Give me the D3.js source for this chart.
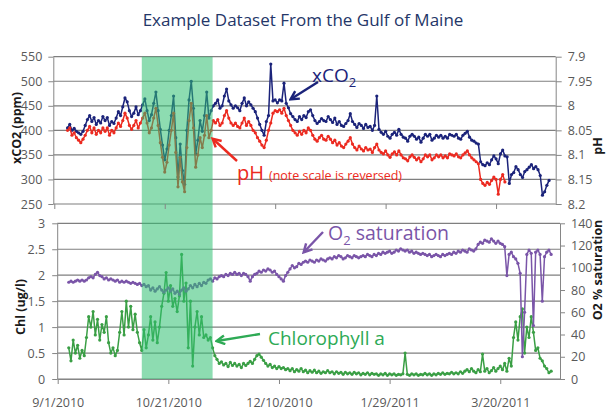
<!DOCTYPE html>
<html><head><meta charset="utf-8">
<script src="https://cdn.jsdelivr.net/npm/d3@7"></script>
<style>body{margin:0;background:#fff}svg{display:block}</style>
</head><body><svg id="c" width="606" height="411"></svg>
<script>
// ---------------- DATA (daily readings) ----------------
const co2Start = "2010-09-07";
const co2Values = [
405,412,400,404,398,395,392,398,410,422,
430,418,426,412,420,415,428,420,426,410,
418,414,425,438,430,448,466,458,440,428,
435,448,432,440,452,464,440,420,432,455,
478,440,402,370,340,362,400,430,470,385,
305,372,318,290,400,462,500,445,352,380,
420,398,430,478,425,440,450,455,462,445,
450,470,484,460,452,445,450,446,440,455,
466,450,458,452,445,438,425,412,400,390,
418,430,535,460,462,456,462,460,496,455,
446,434,428,422,418,428,422,430,426,438,
442,430,420,414,418,424,420,418,428,422,
416,425,412,418,410,408,414,420,434,418,
412,406,414,410,404,412,406,408,400,410,
470,402,396,392,398,388,384,392,396,390,
402,392,386,384,378,388,392,388,382,386,
376,384,392,388,392,380,384,390,386,390,
384,388,384,392,390,388,392,384,382,390,
394,398,386,380,378,374,372,336,330,328,
334,330,340,348,342,332,352,360,348,346,
292,310,314,326,320,310,304,316,320,325,
330,322,326,320,308,268,275,288,298];

const phStart = "2010-09-07";
const phValues = [
8.05,8.045,8.06,8.055,8.065,8.07,8.075,8.068,8.06,8.05,
8.042,8.055,8.045,8.058,8.05,8.055,8.045,8.052,8.045,8.06,
8.05,8.055,8.045,8.035,8.042,8.03,8.015,8.025,8.04,8.048,
8.04,8.03,8.045,8.035,8.025,8.015,8.035,8.055,8.045,8.025,
8.005,8.04,8.075,8.105,8.135,8.115,8.08,8.05,8.015,8.095,
8.165,8.105,8.155,8.175,8.085,8.03,7.995,8.045,8.125,8.1,
8.065,8.085,8.06,8.02,8.065,8.05,8.03,8.035,8.028,8.04,
8.035,8.02,8.01,8.025,8.035,8.04,8.035,8.042,8.045,8.035,
8.025,8.04,8.032,8.04,8.05,8.055,8.065,8.072,8.08,8.085,
8.07,8.05,8.035,8.015,8.01,8.012,8.008,8.015,8.005,8.02,
8.03,8.04,8.05,8.055,8.06,8.052,8.058,8.05,8.055,8.045,
8.05,8.06,8.068,8.072,8.065,8.06,8.068,8.07,8.062,8.068,
8.075,8.07,8.08,8.075,8.082,8.085,8.078,8.072,8.065,8.078,
8.085,8.09,8.082,8.088,8.092,8.085,8.09,8.088,8.095,8.085,
8.078,8.09,8.095,8.098,8.092,8.1,8.105,8.098,8.094,8.1,
8.092,8.1,8.106,8.108,8.112,8.104,8.1,8.105,8.11,8.106,
8.114,8.108,8.1,8.104,8.1,8.11,8.106,8.1,8.104,8.1,
8.106,8.102,8.106,8.098,8.1,8.102,8.098,8.104,8.106,8.1,
8.096,8.092,8.1,8.106,8.11,8.114,8.118,8.15,8.158,8.162,
8.156,8.16,8.152,8.145,8.15,8.18,8.15,8.14,8.155];

const chlStart = "2010-09-06";
const chlValues = [
0.6,0.35,0.75,0.5,0.65,0.4,0.55,0.45,0.8,1.2,
1.0,1.3,0.85,1.15,0.75,1.05,0.9,1.2,0.7,0.5,
0.6,0.45,0.55,0.9,1.3,0.85,1.5,1.0,1.4,0.95,
1.25,0.9,0.7,0.55,0.95,0.6,0.85,1.2,0.75,1.1,
0.7,1.0,1.4,1.65,2.05,1.5,1.8,1.4,1.55,1.3,
1.6,2.4,1.5,1.85,0.6,1.5,0.25,1.0,1.3,0.85,
1.2,0.8,0.85,0.75,0.8,0.6,0.45,0.38,0.3,0.33,
0.27,0.3,0.24,0.32,0.26,0.3,0.25,0.28,0.22,0.3,
0.26,0.3,0.34,0.3,0.38,0.45,0.48,0.42,0.36,0.3,
0.25,0.28,0.22,0.25,0.2,0.24,0.2,0.22,0.18,0.2,
0.16,0.2,0.14,0.18,0.15,0.2,0.14,0.17,0.12,0.16,
0.13,0.17,0.12,0.15,0.11,0.14,0.12,0.16,0.12,0.14,
0.1,0.14,0.11,0.13,0.09,0.13,0.1,0.12,0.09,0.13,
0.1,0.12,0.08,0.11,0.09,0.12,0.08,0.11,0.09,0.1,
0.07,0.1,0.08,0.11,0.07,0.1,0.08,0.1,0.07,0.09,
0.08,0.1,0.5,0.09,0.07,0.1,0.08,0.1,0.07,0.09,
0.08,0.11,0.08,0.1,0.07,0.1,0.08,0.11,0.09,0.12,
0.09,0.11,0.1,0.13,0.1,0.12,0.1,0.14,0.11,0.15,
0.18,0.14,0.2,0.15,0.12,0.18,0.14,0.48,0.15,0.2,
0.12,0.16,0.22,0.15,0.2,0.25,0.18,0.3,0.15,0.4,
0.25,0.8,1.1,0.75,1.2,1.35,0.5,1.0,0.8,1.2,
0.9,0.55,0.6,0.4,0.35,0.25,0.2,0.12,0.15];

const o2Start = "2010-09-06";
const o2Values = [
87,88,87,88,89,88,89,88,89,91,
92,91,94,96,93,92,90,91,89,90,
89,88,89,87,88,87,88,87,86,87,
86,85,86,84,85,83,84,80,82,79,
81,83,80,78,80,82,79,81,77,79,
76,80,82,79,81,84,82,85,83,86,
84,87,86,89,90,88,91,90,92,93,
92,94,93,95,94,96,94,95,93,95,
94,92,88,92,94,95,97,96,98,97,
99,98,96,97,94,92,90,88,93,96,
99,102,100,101,104,103,105,106,105,107,
106,105,107,106,108,107,106,108,109,108,
110,109,111,110,108,109,111,110,109,111,
110,109,110,111,110,112,111,110,112,111,
113,112,114,113,114,115,113,114,116,115,
117,116,115,116,114,115,113,114,113,112,
113,112,111,112,110,111,112,111,110,112,
111,112,113,112,114,113,115,114,116,115,
114,117,116,115,117,121,123,122,125,124,
123,126,124,122,124,122,121,119,93,112,
114,110,108,104,95,20,60,112,116,113,
48,114,116,112,70,110,114,116,112];

const xTickLabels = ["9/1/2010","10/21/2010","12/10/2010","1/29/2011","3/20/2011"];
const co2Ticks = [250,300,350,400,450,500,550];
const phTicks = [7.9,7.95,8,8.05,8.1,8.15,8.2];
const chlTicks = [0,0.5,1,1.5,2,2.5,3];
const o2Ticks = [0,20,40,60,80,100,120,140];
const bloomPeriod = ["2010-10-09","2010-11-10"];

// ---------------- CHART ----------------
const svg = d3.select("#c");
const FONT = "'Open Sans', sans-serif";
const AX = "#868686", LBL = "#595959", GRID = "#7f7f7f";
const C_CO2 = "#1b237a", C_PH = "#ec2a20", C_O2 = "#7a55a8", C_CHL = "#3a9f45";

const parse = d3.utcParse("%Y-%m-%d");
const parseTick = d3.utcParse("%m/%d/%Y");
const tickDates = xTickLabels.map(parseTick);
const t0 = tickDates[0];
const t1 = d3.utcDay.offset(t0, 227);

const xTop = d3.scaleUtc().domain([t0, t1]).range([54.3, 555.7]);
const xBot = d3.scaleUtc().domain([t0, t1]).range([57.7, 560]);
const yCo2 = d3.scaleLinear().domain([250, 550]).range([204, 56.7]);
const yPh  = d3.scaleLinear().domain([8.2, 7.9]).range([204, 56.7]);
const yChl = d3.scaleLinear().domain([0, 3]).range([379, 223.3]);
const yO2  = d3.scaleLinear().domain([0, 140]).range([379, 223.3]);

// title
svg.append("text").attr("x", 303).attr("y", 26).attr("text-anchor", "middle")
  .attr("font-family", FONT).attr("font-size", 17).attr("fill", "#243668")
  .text("Example Dataset From the Gulf of Maine");

// gridlines
const grid = svg.append("g");
grid.selectAll(null).data(co2Ticks).join("line")
  .attr("x1", xTop.range()[0] - 1).attr("x2", xTop.range()[1])
  .attr("y1", d => yCo2(d)).attr("y2", d => yCo2(d))
  .attr("stroke", GRID).attr("stroke-width", 1.2);
grid.selectAll(null).data(chlTicks).join("line")
  .attr("x1", xBot.range()[0] - 0.5).attr("x2", xBot.range()[1])
  .attr("y1", d => yChl(d)).attr("y2", d => yChl(d))
  .attr("stroke", GRID).attr("stroke-width", 1.2);

function drawSeries(start, values, x, y, color) {
  const t = parse(start);
  const pts = values.map((v, i) => [d3.utcDay.offset(t, i), v]);
  const g = svg.append("g");
  g.append("path").datum(pts)
    .attr("d", d3.line().x(d => x(d[0])).y(d => y(d[1])))
    .attr("fill", "none").attr("stroke", color).attr("stroke-width", 1.5)
    .attr("stroke-linejoin", "round");
  g.selectAll(null).data(pts).join("circle")
    .attr("cx", d => x(d[0])).attr("cy", d => y(d[1])).attr("r", 1.6).attr("fill", color);
}
drawSeries(co2Start, co2Values, xTop, yCo2, C_CO2);
drawSeries(phStart, phValues, xTop, yPh, C_PH);
drawSeries(chlStart, chlValues, xBot, yChl, C_CHL);
drawSeries(o2Start, o2Values, xBot, yO2, C_O2);

// bloom shading
const b0 = xBot(parse(bloomPeriod[0])), b1 = xBot(parse(bloomPeriod[1]));
svg.append("rect").attr("x", b0).attr("y", 56.7).attr("width", b1 - b0).attr("height", 380 - 56.7)
  .attr("fill", "#2fbf71").attr("fill-opacity", 0.55);

// axes
function styleAxis(g) {
  g.selectAll("path.domain").attr("stroke", AX).attr("stroke-width", 1);
  g.selectAll(".tick line").attr("stroke", AX).attr("stroke-width", 1);
  g.selectAll(".tick text").attr("fill", LBL).attr("font-family", FONT);
}
svg.append("g").attr("transform", `translate(${xTop.range()[0] - 1},0)`)
  .call(d3.axisLeft(yCo2).tickValues(co2Ticks).tickSize(5).tickSizeOuter(0).tickPadding(6))
  .attr("font-size", 12.5).call(styleAxis);
svg.append("g").attr("transform", `translate(${xTop.range()[1]},0)`)
  .call(d3.axisRight(yPh).tickValues(phTicks).tickFormat(d => String(d)).tickSize(6).tickSizeOuter(0).tickPadding(6))
  .attr("font-size", 12.5).call(styleAxis);
svg.append("g").attr("transform", `translate(0,204)`)
  .call(d3.axisBottom(xTop).tickValues(tickDates).tickFormat("").tickSize(5).tickSizeOuter(0))
  .call(styleAxis).select("path.domain").remove();

svg.append("g").attr("transform", `translate(${xBot.range()[0] - 0.5},0)`)
  .call(d3.axisLeft(yChl).tickValues(chlTicks).tickFormat(d => String(d)).tickSize(5).tickSizeOuter(0).tickPadding(7))
  .attr("font-size", 12.5).call(styleAxis);
svg.append("g").attr("transform", `translate(${xBot.range()[1]},0)`)
  .call(d3.axisRight(yO2).tickValues(o2Ticks).tickSize(5).tickSizeOuter(0).tickPadding(6))
  .attr("font-size", 12.5).call(styleAxis);
svg.append("g").attr("transform", `translate(0,379)`)
  .call(d3.axisBottom(xBot).tickValues(tickDates).tickFormat((d, i) => xTickLabels[i]).tickSize(5).tickSizeOuter(0).tickPadding(14))
  .attr("font-size", 12.5).call(styleAxis);

// axis titles
function axisTitle(x, y, txt) {
  svg.append("text").attr("transform", `translate(${x},${y}) rotate(-90)`)
    .attr("text-anchor", "middle").attr("font-family", FONT).attr("font-weight", "bold")
    .attr("font-size", 12.5).attr("fill", "#1a1a1a").text(txt);
}
axisTitle(21, 128, "xCO2 (ppm)");
axisTitle(602, 146, "pH");
axisTitle(25, 307, "Chl (ug/l)");
axisTitle(602, 270, "O2 % saturation");

// arrows
const defs = svg.append("defs");
function arrow(id, color, x1, y1, x2, y2) {
  defs.append("marker").attr("id", id).attr("viewBox", "0 0 10 10")
    .attr("refX", 8).attr("refY", 5).attr("markerWidth", 11).attr("markerHeight", 11)
    .attr("markerUnits", "userSpaceOnUse").attr("orient", "auto")
    .append("path").attr("d", "M1,1 L8.5,5 L1,9").attr("fill", "none")
    .attr("stroke", color).attr("stroke-width", 2.2).attr("stroke-linejoin", "miter");
  svg.append("line").attr("x1", x1).attr("y1", y1).attr("x2", x2).attr("y2", y2)
    .attr("stroke", color).attr("stroke-width", 2.4).attr("marker-end", `url(#${id})`);
}
arrow("aCo2", C_CO2, 318, 82, 291, 99);
arrow("aPh", C_PH, 237, 161, 213, 139);
arrow("aO2", C_O2, 323, 232, 304, 252);
arrow("aChl", "#2eaa55", 260, 334, 217, 341);

// annotation labels
const tCo2 = svg.append("text").attr("x", 312).attr("y", 82).attr("font-family", FONT)
  .attr("font-size", 19).attr("fill", C_CO2);
tCo2.append("tspan").text("xCO");
tCo2.append("tspan").attr("font-size", 13).attr("dy", 5).text("2");

const tPh = svg.append("text").attr("x", 237).attr("y", 180).attr("font-family", FONT).attr("fill", C_PH);
tPh.append("tspan").attr("font-size", 20).text("pH");
tPh.append("tspan").attr("font-size", 12.5).attr("dx", 5).text("(note scale is reversed)");

const tO2 = svg.append("text").attr("x", 328).attr("y", 240).attr("font-family", FONT)
  .attr("font-size", 19.5).attr("fill", C_O2);
tO2.append("tspan").text("O");
tO2.append("tspan").attr("font-size", 13).attr("dy", 5).text("2");
tO2.append("tspan").attr("dy", -5).text(" saturation");

svg.append("text").attr("x", 268).attr("y", 345).attr("font-family", FONT)
  .attr("font-size", 19).attr("fill", "#2eaa55").text("Chlorophyll a");
</script></body></html>
